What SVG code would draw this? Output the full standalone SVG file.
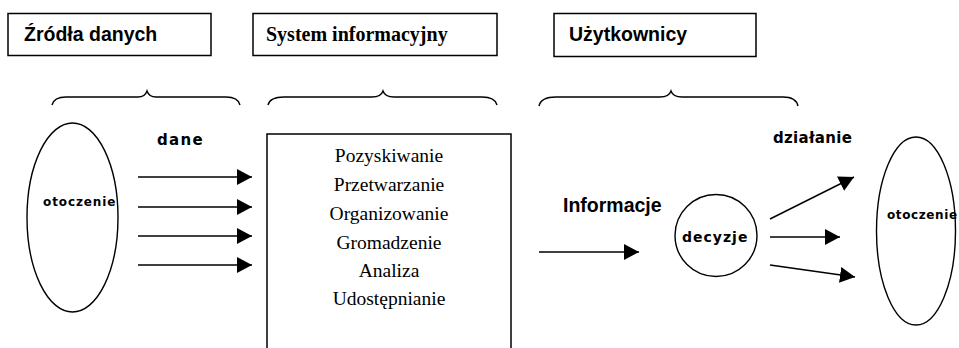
<svg xmlns="http://www.w3.org/2000/svg" width="959" height="348" viewBox="0 0 959 348">
<style>
.box{fill:#fff;stroke:#000;stroke-width:1.5}
.ln{fill:none;stroke:#000;stroke-width:1.4}
.hdr{font-family:"Liberation Sans",Arial,sans-serif;font-weight:bold;font-size:19.5px;fill:#000}
.hdrs{font-family:"Liberation Serif","Times New Roman",serif;font-weight:bold;font-size:20px;fill:#000}
.lst{font-family:"Liberation Serif","Times New Roman",serif;font-size:19.5px;fill:#000;text-anchor:middle}
.sm{font-family:"DejaVu Sans",Verdana,sans-serif;font-weight:bold;fill:#000}
.arr{fill:none;stroke:#000;stroke-width:1.4;marker-end:url(#ah)}
</style>
<defs>
<marker id="ah" markerUnits="userSpaceOnUse" markerWidth="16" markerHeight="18" refX="15" refY="8" orient="auto">
<path d="M0,0 L15,8 L0,16 Z" fill="#000"/>
</marker>
</defs>
<rect width="959" height="348" fill="#fff"/>

<g id="hdr-zrodla">
<rect class="box" x="8" y="13.5" width="203" height="42"/>
<text class="hdr" x="24" y="41">Źródła danych</text>
</g>
<g id="hdr-system">
<rect class="box" x="253" y="13.5" width="244" height="42"/>
<text class="hdrs" x="266" y="41">System informacyjny</text>
</g>
<g id="hdr-uzytkownicy">
<rect class="box" x="554" y="13.5" width="202" height="43"/>
<text class="hdr" x="569" y="41">Użytkownicy</text>
</g>

<g id="braces">
<path class="ln" d="M52,105 Q54,97 66,97 L138,97 Q145,97 147,91 Q149,97 156,97 L226,97 Q238,97 240,105"/>
<path class="ln" d="M268,105 Q270,97 284,97 L372,97 Q381,97 383,91 Q385,97 394,97 L482,97 Q495,97 497,105"/>
<path class="ln" d="M539,106 Q541,97 556,97 L660,97 Q669,97 671,91 Q673,97 682,97 L783,97 Q796,97 798,106"/>
</g>

<g id="otoczenie-left">
<ellipse class="ln" cx="72.5" cy="217.5" rx="45.5" ry="94.5"/>
<text class="sm" x="43" y="206" font-size="12" letter-spacing="0.9">otoczenie</text>
</g>

<g id="system">
<path class="box" d="M267,360 L267,134 L511,134 L511,360"/>
<text class="lst" x="389" y="162">Pozyskiwanie</text>
<text class="lst" x="389" y="191">Przetwarzanie</text>
<text class="lst" x="389" y="220">Organizowanie</text>
<text class="lst" x="389" y="249">Gromadzenie</text>
<text class="lst" x="389" y="277">Analiza</text>
<text class="lst" x="389" y="305">Udostępnianie</text>
</g>

<g id="decyzje">
<circle class="ln" cx="716" cy="235.5" r="41"/>
<text class="sm" x="682" y="242" font-size="14" letter-spacing="1">decyzje</text>
</g>

<g id="otoczenie-right">
<ellipse class="ln" cx="916" cy="231" rx="39.5" ry="94"/>
<text class="sm" x="887" y="219" font-size="12" letter-spacing="0.6">otoczenie</text>
</g>

<g id="labels">
<text class="sm" x="157" y="145" font-size="15" letter-spacing="1.3">dane</text>
<text class="hdr" x="563" y="212" font-size="18.5px">Informacje</text>
<text class="sm" x="773" y="143" font-size="15" letter-spacing="0.3">działanie</text>
</g>

<g id="connectors">
<line class="arr" x1="138" y1="177" x2="252" y2="177"/>
<line class="arr" x1="138" y1="207" x2="252" y2="207"/>
<line class="arr" x1="138" y1="236" x2="252" y2="236"/>
<line class="arr" x1="138" y1="265" x2="252" y2="265"/>
<line class="arr" x1="539" y1="252" x2="639" y2="252"/>
<line class="arr" x1="770" y1="219" x2="854" y2="177"/>
<line class="arr" x1="770" y1="237" x2="840" y2="237"/>
<line class="arr" x1="770" y1="265" x2="855" y2="277"/>
</g>
</svg>
